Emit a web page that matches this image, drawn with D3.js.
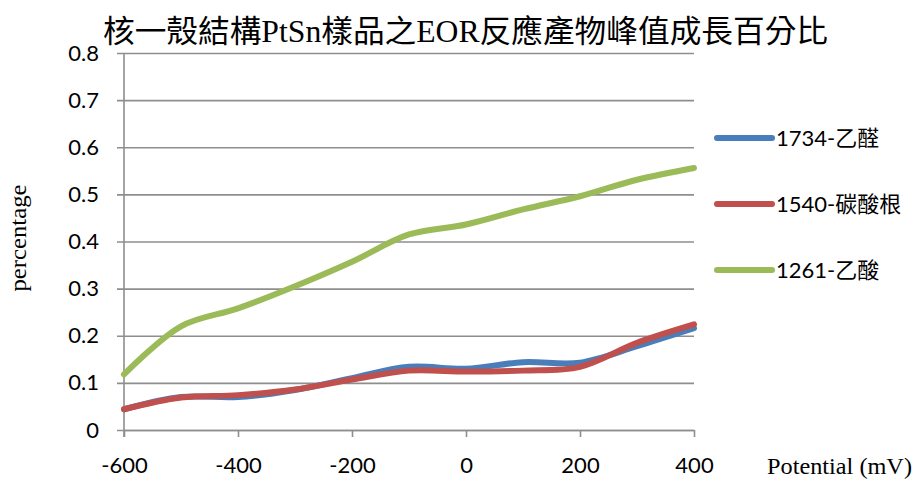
<!DOCTYPE html>
<html>
<head>
<meta charset="utf-8">
<script src="https://cdn.jsdelivr.net/npm/d3@7"></script>
<style>
  html, body { margin: 0; padding: 0; background: #fff; }
  svg { display: block; }
</style>
</head>
<body>
<svg id="chart" width="918" height="480"></svg>
<script>
// Potential (mV) sampling points
const potentials = [-600, -500, -400, -300, -200, -100, 0, 100, 200, 300, 400];

// Peak growth ratio for each product band
const acetaldehyde = [0.044, 0.070, 0.070, 0.085, 0.110, 0.134, 0.130, 0.144, 0.143, 0.178, 0.216];
const carbonate    = [0.044, 0.069, 0.074, 0.086, 0.107, 0.126, 0.124, 0.126, 0.134, 0.185, 0.224];
const aceticAcid   = [0.118, 0.220, 0.258, 0.305, 0.357, 0.415, 0.436, 0.468, 0.496, 0.531, 0.556];

const seriesNames  = ["1734-乙醛", "1540-碳酸根", "1261-乙酸"];
const seriesColors = ["#4a7ebb", "#c0504d", "#9bbb59"];

const yTicks = [0, 0.1, 0.2, 0.3, 0.4, 0.5, 0.6, 0.7, 0.8];
const xTicks = [-600, -400, -200, 0, 200, 400];

const titleText = "核一殼結構PtSn樣品之EOR反應產物峰值成長百分比";
const xTitle = "Potential (mV)";
const yTitle = "percentage";

const series = [acetaldehyde, carbonate, aceticAcid].map((vals, i) => ({
  name: seriesNames[i],
  color: seriesColors[i],
  values: vals.map((v, j) => ({ x: potentials[j], y: v }))
}));

const svg = d3.select("#chart");
const plot = { left: 124, right: 694, top: 53, bottom: 430 };

const x = d3.scaleLinear().domain([-600, 400]).range([plot.left, plot.right]);
const y = d3.scaleLinear().domain([0, 0.8]).range([plot.bottom, plot.top]);

const gridColor = "#8e8e8e";
const labelFont = "Lato, 'Noto Sans CJK TC', sans-serif";
const serifFont = "'Liberation Serif', 'Noto Sans CJK TC', serif";

// Horizontal gridlines with short ticks to the left of the axis
const yAxis = d3.axisLeft(y)
  .tickValues(yTicks)
  .tickSize(-(plot.right - plot.left))
  .tickSizeOuter(0)
  .tickPadding(25)
  .tickFormat(d => d === 0 ? "0" : d3.format(".1f")(d));

const gy = svg.append("g")
  .attr("transform", `translate(${plot.left},0)`)
  .call(yAxis);
gy.select(".domain").remove();
gy.selectAll(".tick line")
  .attr("x1", -7)
  .attr("stroke", gridColor)
  .attr("stroke-width", 1.6);
gy.selectAll(".tick text")
  .attr("font-family", labelFont)
  .attr("font-size", 22)
  .attr("fill", "#000");

// Vertical axis line
svg.append("line")
  .attr("x1", plot.left).attr("x2", plot.left)
  .attr("y1", plot.top).attr("y2", plot.bottom + 7)
  .attr("stroke", gridColor).attr("stroke-width", 1.6);

// Bottom axis
const xAxis = d3.axisBottom(x)
  .tickValues(xTicks)
  .tickSize(7)
  .tickSizeOuter(0)
  .tickPadding(20)
  .tickFormat(d => String(d));

const gx = svg.append("g")
  .attr("transform", `translate(0,${plot.bottom})`)
  .call(xAxis);
gx.select(".domain")
  .attr("stroke", gridColor).attr("stroke-width", 1.6);
gx.selectAll(".tick line")
  .attr("stroke", gridColor).attr("stroke-width", 1.6);
gx.selectAll(".tick text")
  .attr("font-family", labelFont)
  .attr("font-size", 22)
  .attr("fill", "#000");

// Smoothed series lines
const line = d3.line()
  .x(d => x(d.x))
  .y(d => y(d.y))
  .curve(d3.curveCatmullRom.alpha(0.5));

svg.append("g")
  .selectAll("path")
  .data(series)
  .join("path")
  .attr("d", d => line(d.values))
  .attr("fill", "none")
  .attr("stroke", d => d.color)
  .attr("stroke-width", 6)
  .attr("stroke-linecap", "round")
  .attr("stroke-linejoin", "round");

// Legend
const legendY = [138, 204, 270];
const legend = svg.append("g")
  .selectAll("g")
  .data(series)
  .join("g")
  .attr("transform", (d, i) => `translate(717,${legendY[i]})`);
legend.append("line")
  .attr("x1", 0).attr("x2", 55)
  .attr("stroke", d => d.color)
  .attr("stroke-width", 6)
  .attr("stroke-linecap", "round");
legend.append("text")
  .attr("x", 59)
  .attr("dy", "0.36em")
  .attr("font-family", labelFont)
  .attr("font-size", 22)
  .attr("fill", "#000")
  .text(d => d.name);

// Title
svg.append("text")
  .attr("x", 103)
  .attr("y", 42)
  .attr("font-family", serifFont)
  .attr("font-size", 31)
  .attr("textLength", 725)
  .attr("lengthAdjust", "spacingAndGlyphs")
  .attr("fill", "#000")
  .text(titleText);

// Axis titles
svg.append("text")
  .attr("x", 767)
  .attr("y", 474)
  .attr("font-family", serifFont)
  .attr("font-size", 23)
  .attr("textLength", 145)
  .attr("lengthAdjust", "spacingAndGlyphs")
  .attr("fill", "#000")
  .text(xTitle);

svg.append("text")
  .attr("transform", "translate(26,238) rotate(-90)")
  .attr("text-anchor", "middle")
  .attr("font-family", serifFont)
  .attr("font-size", 23)
  .attr("textLength", 107)
  .attr("lengthAdjust", "spacingAndGlyphs")
  .attr("fill", "#000")
  .text(yTitle);
</script>
</body>
</html>
